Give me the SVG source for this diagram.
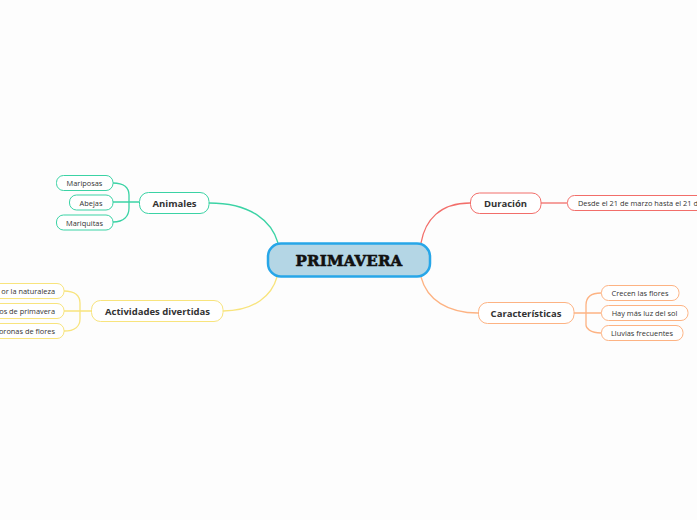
<svg xmlns="http://www.w3.org/2000/svg" width="697" height="520" viewBox="0 0 697 520">
<style>
.t{font-family:"Open Sans","Liberation Sans",sans-serif;fill:#333;text-anchor:middle;dominant-baseline:central}
.h{font-size:9.5px;font-weight:bold}
.s{font-size:7.4px}
.c{fill:none;stroke-width:1.3}
.nb{fill:#fff;stroke-width:1}
.g{stroke:#3bd3a5}
.y{stroke:#f8e47d}
.r{stroke:#f26e6a}
.o{stroke:#fdb383}
</style>
<rect width="697" height="520" fill="#fdfdfd"/>
<g id="connectors">
<path class="c g" d="M209,203 C252,203 272,222 278,243"/>
<path class="c y" d="M223,311 C255,311 272,295 277,277"/>
<path class="c r" d="M470,203 C440,203 425,220 421,243"/>
<path class="c o" d="M421,277 C427,300 448,313 478,313"/>
<path class="c g" d="M113,183 C124,183 129,188 129,195 L129,208 C129,216 124,222 113,222 M113,202 L139,202"/>
<path class="c y" d="M64,291 C75,291 80,296 80,303 L80,319 C80,326 75,331 64,331 M64,311 L91,311"/>
<path class="c r" d="M541,203 L567,203"/>
<path class="c o" d="M601,293 C590,293 586,298 586,305 L586,325 C586,328 590,333 601,333 M574,313 L601,313"/>
</g>
<g id="central">
<rect x="268" y="243.5" width="162" height="33" rx="13" fill="#b4d6e5" stroke="#27a6e8" stroke-width="2.5"/>
<text x="349" y="260.5" style="font-family:'DejaVu Serif','Liberation Serif',serif;font-weight:900;font-size:15px;fill:#111;stroke:#111;stroke-width:0.6;text-anchor:middle;dominant-baseline:central;letter-spacing:0.2px">PRIMAVERA</text>
</g>
<g id="animales">
<rect class="nb g" x="139.5" y="192.5" width="69.5" height="21" rx="9"/>
<text class="t h" x="174.5" y="203">Animales</text>
</g>
<g id="mariposas">
<rect class="nb g" x="56.5" y="175.5" width="56.5" height="15" rx="7"/>
<text class="t s" x="84.5" y="183">Mariposas</text>
</g>
<g id="abejas">
<rect class="nb g" x="69.5" y="195" width="43.5" height="15" rx="7"/>
<text class="t s" x="91" y="202.5">Abejas</text>
</g>
<g id="mariquitas">
<rect class="nb g" x="56.5" y="215" width="56.5" height="15" rx="7"/>
<text class="t s" x="84.5" y="222.5">Mariquitas</text>
</g>
<g id="actividades">
<rect class="nb y" x="91.5" y="300.5" width="131.5" height="21" rx="9"/>
<text class="t h" x="157.5" y="311">Actividades divertidas</text>
</g>
<g id="act1">
<rect class="nb y" x="-40" y="283.5" width="104" height="15" rx="7"/>
<text class="t s" x="55" y="291" style="text-anchor:end">or la naturaleza</text>
</g>
<g id="act2">
<rect class="nb y" x="-40" y="303.5" width="104" height="15" rx="7"/>
<text class="t s" x="55" y="311" style="text-anchor:end">os de primavera</text>
</g>
<g id="act3">
<rect class="nb y" x="-40" y="323.5" width="104" height="15" rx="7"/>
<text class="t s" x="55" y="331" style="text-anchor:end">oronas de flores</text>
</g>
<g id="duracion">
<rect class="nb r" x="470.5" y="193" width="70.5" height="20.5" rx="9"/>
<text class="t h" x="505.5" y="203.5">Duración</text>
</g>
<g id="desde">
<rect class="nb r" x="567.5" y="195.5" width="160" height="15" rx="7"/>
<text class="t s" x="578" y="203" style="text-anchor:start">Desde el 21 de marzo hasta el 21 de</text>
</g>
<g id="caracteristicas">
<rect class="nb o" x="478.5" y="302.5" width="95.5" height="21" rx="9"/>
<text class="t h" x="526" y="313">Características</text>
</g>
<g id="crecen">
<rect class="nb o" x="601.5" y="285.5" width="77.5" height="15" rx="7"/>
<text class="t s" x="640" y="293">Crecen las flores</text>
</g>
<g id="luz">
<rect class="nb o" x="601.5" y="305.5" width="86.5" height="15" rx="7"/>
<text class="t s" x="644.5" y="313">Hay más luz del sol</text>
</g>
<g id="lluvias">
<rect class="nb o" x="601.5" y="325.5" width="81.5" height="15" rx="7"/>
<text class="t s" x="642" y="333">Lluvias frecuentes</text>
</g>
</svg>
